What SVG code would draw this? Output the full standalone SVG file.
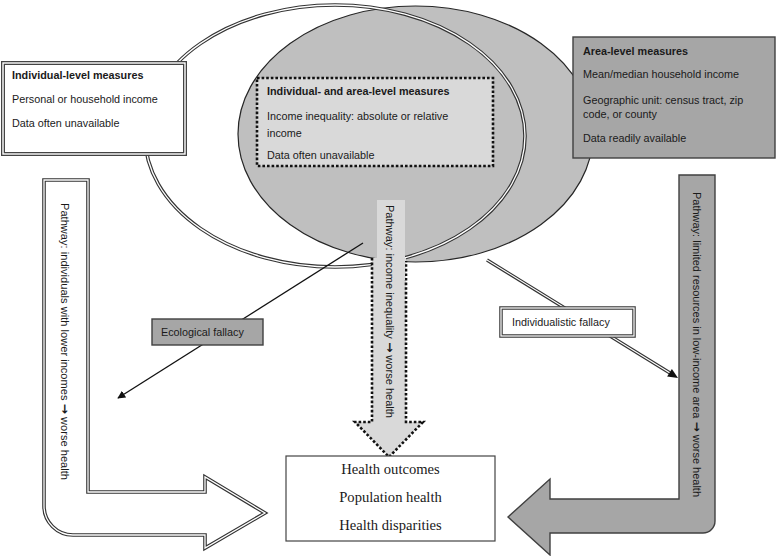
<svg xmlns="http://www.w3.org/2000/svg" width="777" height="556" viewBox="0 0 777 556">
<defs>
<style>
.t{font-family:"Liberation Sans",Arial,sans-serif;font-size:10.8px;fill:#1a1a1a}
.b{font-weight:bold}
.ar{font-family:"DejaVu Sans",sans-serif;font-size:12px;font-weight:bold}
.s{font-family:"Liberation Serif","Times New Roman",serif;font-size:14.6px;fill:#1a1a1a}
.dblo{fill:none;stroke:#333;stroke-width:3.6}
.dbli{fill:none;stroke:#fff;stroke-width:1.3}
.dot{stroke:#111;stroke-width:2.6;stroke-dasharray:2.6 2}
.grey{fill:#a6a6a6;stroke:#404040;stroke-width:1.4}
</style>
<marker id="ah" viewBox="0 0 10 10" refX="9" refY="5" markerWidth="8" markerHeight="8" orient="auto" markerUnits="userSpaceOnUse">
<path d="M0,0 L10,5 L0,10 Z" fill="#111"/>
</marker>
</defs>
<rect width="777" height="556" fill="#fff"/>

<g id="area-ellipse">
<ellipse cx="415.5" cy="134" rx="177.5" ry="128" fill="#bfbfbf" stroke="#262626" stroke-width="1.2"/>
</g>
<g id="individual-ellipse">
<ellipse class="dblo" cx="335" cy="136" rx="190" ry="131"/>
<ellipse class="dbli" cx="335" cy="136" rx="190" ry="131"/>
</g>

<g id="pathway-income-inequality">
<path d="M372,258 V422 H355 L389,457 L423,422 H406 V258 Z" fill="#d9d9d9"/>
<path d="M372,258 V422 H355 L389,457 L423,422 H406 V261" fill="none" class="dot"/>
<rect x="377" y="200" width="28" height="80" fill="#d9d9d9"/>
<text class="t" transform="translate(386,205) rotate(90)" textLength="213" lengthAdjust="spacingAndGlyphs">Pathway: income inequality <tspan class="ar">→</tspan> worse health</text>
</g>

<g id="both-level-measures">
<rect x="257" y="78" width="236" height="88" fill="#d9d9d9" class="dot"/>
<text class="t b" x="267" y="95">Individual- and area-level measures</text>
<text class="t" x="267" y="120">Income inequality: absolute or relative</text>
<text class="t" x="267" y="137">income</text>
<text class="t" x="267" y="159">Data often unavailable</text>
</g>

<g id="individual-level-measures">
<rect x="3" y="63" width="182" height="91" fill="#fff" stroke="#444" stroke-width="4"/>
<rect x="3" y="63" width="182" height="91" fill="none" stroke="#fff" stroke-width="1.4"/>
<text class="t b" x="12" y="79">Individual-level measures</text>
<text class="t" x="12" y="103">Personal or household income</text>
<text class="t" x="12" y="127">Data often unavailable</text>
</g>

<g id="area-level-measures">
<rect x="573" y="37" width="202" height="121" class="grey"/>
<text class="t b" x="583" y="55">Area-level measures</text>
<text class="t" x="583" y="78">Mean/median household income</text>
<text class="t" x="583" y="104">Geographic unit: census tract, zip</text>
<text class="t" x="583" y="118">code, or county</text>
<text class="t" x="583" y="142">Data readily available</text>
</g>

<g id="pathway-individual">
<path class="dblo" d="M44,180 H88 V492 H205 V477 L265,513 L205,548 V535 H73 A29,29 0 0 1 44,506 Z" fill="#fff"/>
<path class="dbli" d="M44,180 H88 V492 H205 V477 L265,513 L205,548 V535 H73 A29,29 0 0 1 44,506 Z"/>
<text class="t" transform="translate(61,203) rotate(90)" textLength="277" lengthAdjust="spacingAndGlyphs">Pathway: individuals with lower incomes <tspan class="ar">→</tspan> worse health</text>
</g>

<g id="pathway-area">
<path class="grey" d="M679,175 H715 V521 A12,12 0 0 1 703,533 H550 V555 L508,517 L550,479 V499 H679 Z"/>
<text class="t" transform="translate(693,192) rotate(90)" textLength="305" lengthAdjust="spacingAndGlyphs">Pathway: limited resources in low-income area <tspan class="ar">→</tspan> worse health</text>
</g>

<g id="connectors">
<line x1="363" y1="243" x2="118" y2="398" stroke="#111" stroke-width="1.3" marker-end="url(#ah)"/>
<line class="dblo" x1="487" y1="260" x2="670" y2="373" style="stroke-width:3.4"/>
<line class="dbli" x1="487" y1="260" x2="670" y2="373" style="stroke-width:1.1"/>
<polygon points="678,378 671.9,368.9 667.1,376.5" fill="#111"/>
</g>

<g id="ecological-fallacy">
<rect x="152" y="319" width="111" height="26" class="grey"/>
<text class="t" x="161" y="336">Ecological fallacy</text>
</g>

<g id="individualistic-fallacy">
<rect x="501" y="308" width="133" height="28" fill="#fff" stroke="#444" stroke-width="3.6"/>
<rect x="501" y="308" width="133" height="28" fill="none" stroke="#fff" stroke-width="1.2"/>
<text class="t" x="512" y="326">Individualistic fallacy</text>
</g>

<g id="health-outcomes">
<rect x="286" y="456" width="209" height="85" fill="#fff" stroke="#444" stroke-width="1.2"/>
<text class="s" x="390.5" y="474" text-anchor="middle">Health outcomes</text>
<text class="s" x="390.5" y="502" text-anchor="middle">Population health</text>
<text class="s" x="390.5" y="530" text-anchor="middle">Health disparities</text>
</g>
</svg>
